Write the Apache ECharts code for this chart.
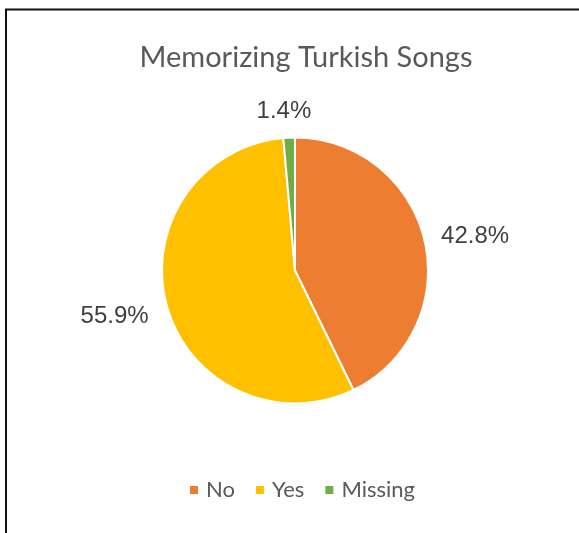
<!DOCTYPE html>
<html>
<head>
<meta charset="utf-8">
<style>
  html, body { margin: 0; padding: 0; background: #fff; }
  #chart { width: 579px; height: 533px; }
</style>
<script src="https://cdn.jsdelivr.net/npm/echarts@6/dist/echarts.min.js"></script>
</head>
<body>
<div id="chart"></div>
<script>
// Survey answers: share of respondents (%)
const categories = ['No', 'Yes', 'Missing'];
const shares = [42.8, 55.9, 1.4];
const sliceColors = ['#ED7D31', '#FFC000', '#70AD47'];

// small nudges for the percentage labels, per slice
const labelNudge = [[-3, 0], [1, 5], [23, -6]];

const chart = echarts.init(document.getElementById('chart'), null, { renderer: 'canvas' });

chart.setOption({
  backgroundColor: '#fff',
  animation: false,
  title: {
    text: 'Memorizing Turkish Songs',
    left: 301,
    textAlign: 'center',
    top: 38,
    textStyle: {
      fontFamily: 'Lato',
      fontWeight: 'normal',
      fontSize: 29,
      color: '#595959'
    }
  },
  legend: {
    data: categories,
    bottom: 27,
    left: 183,
    icon: 'rect',
    itemWidth: 10,
    itemHeight: 10,
    itemGap: 19,
    textStyle: {
      fontFamily: 'Lato',
      fontSize: 22,
      color: '#595959',
      padding: [0, 0, 0, 2]
    }
  },
  graphic: [
    { type: 'line', shape: { x1: 5, y1: 9.5, x2: 579, y2: 9.5 }, style: { stroke: '#111', lineWidth: 2 } },
    { type: 'line', shape: { x1: 6, y1: 9, x2: 6, y2: 533 }, style: { stroke: '#111', lineWidth: 2 } }
  ],
  series: [{
    type: 'pie',
    center: [295, 270.5],
    radius: 133,
    startAngle: 90,
    clockwise: true,
    avoidLabelOverlap: false,
    itemStyle: { borderColor: '#fff', borderWidth: 2 },
    label: {
      show: true,
      position: 'outside',
      formatter: function (p) { return p.value.toFixed(1) + '%'; },
      fontFamily: 'Liberation Sans',
      fontSize: 24,
      color: '#404040',
      distanceToLabelLine: 0
    },
    labelLine: { show: false, length: 20, length2: 0 },
    labelLayout: function (p) {
      const n = labelNudge[p.dataIndex];
      return { dx: n[0], dy: n[1] };
    },
    data: categories.map(function (c, i) {
      return { name: c, value: shares[i], itemStyle: { color: sliceColors[i] } };
    })
  }]
});
</script>
</body>
</html>
